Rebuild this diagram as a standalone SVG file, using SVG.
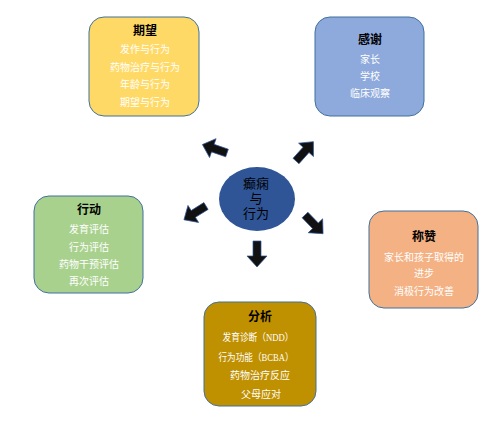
<svg xmlns="http://www.w3.org/2000/svg" width="500" height="422" viewBox="0 0 500 422">
<style>
.box{stroke:#41719C;stroke-width:1}
.t{font-family:"Liberation Serif","Noto Sans CJK SC",serif;font-size:12px;font-weight:bold;fill:#000;text-anchor:middle}
.i{font-family:"Liberation Serif","Noto Sans CJK SC",serif;font-size:10px;fill:#fff;text-anchor:middle}
.c{font-family:"Liberation Sans","Noto Sans CJK SC",sans-serif;font-size:13px;fill:#000;text-anchor:middle}
.arr{fill:#111;stroke:#2F5597;stroke-width:0.7}
</style>
<defs>
<path id="ar" d="M0,-4 L15,-4 L15,-10 L26,0 L15,10 L15,4 L0,4 Z"/>
</defs>
<rect width="500" height="422" fill="#fff"/>
<g id="connectors">
<use href="#ar" class="arr" transform="translate(227,153) rotate(199)"/>
<use href="#ar" class="arr" transform="translate(296,161) rotate(-48)"/>
<use href="#ar" class="arr" transform="translate(206,206) rotate(148)"/>
<use href="#ar" class="arr" transform="translate(305,215) rotate(46)"/>
<use href="#ar" class="arr" transform="translate(257,241) rotate(90)"/>
</g>
<g id="center">
<ellipse cx="257" cy="199" rx="38" ry="32" fill="#2F5597"/>
<text class="c" x="256" y="188">癫痫</text>
<text class="c" x="256" y="203">与</text>
<text class="c" x="256" y="218">行为</text>
</g>
<g id="expect">
<rect class="box" x="89" y="17" width="110" height="99" rx="15" fill="#FFD966"/>
<text class="t" x="145" y="35">期望</text>
<text class="i" x="145" y="53">发作与行为</text>
<text class="i" x="145" y="71">药物治疗与行为</text>
<text class="i" x="145" y="88">年龄与行为</text>
<text class="i" x="145" y="106">期望与行为</text>
</g>
<g id="thanks">
<rect class="box" x="315" y="17" width="109" height="99" rx="15" fill="#8EA9DB"/>
<text class="t" x="370" y="44">感谢</text>
<text class="i" x="370" y="63">家长</text>
<text class="i" x="370" y="80">学校</text>
<text class="i" x="370" y="97">临床观察</text>
</g>
<g id="action">
<rect class="box" x="34" y="196" width="109" height="97" rx="15" fill="#A9D18E"/>
<text class="t" x="89" y="214">行动</text>
<text class="i" x="89" y="233">发育评估</text>
<text class="i" x="89" y="251">行为评估</text>
<text class="i" x="89" y="268">药物干预评估</text>
<text class="i" x="89" y="285">再次评估</text>
</g>
<g id="praise">
<rect class="box" x="369" y="211" width="109" height="97" rx="15" fill="#F4B183"/>
<text class="t" x="424" y="241">称赞</text>
<text class="i" x="424" y="261">家长和孩子取得的</text>
<text class="i" x="424" y="277">进步</text>
<text class="i" x="424" y="295">消极行为改善</text>
</g>
<g id="analysis">
<rect class="box" x="204" y="302" width="112" height="104" rx="15" fill="#BF9000"/>
<text class="t" x="260" y="321">分析</text>
<text class="i" x="258" y="341" font-size="10.5" textLength="71" lengthAdjust="spacingAndGlyphs">发育诊断（NDD）</text>
<text class="i" x="256" y="361" font-size="10.5" textLength="75" lengthAdjust="spacingAndGlyphs">行为功能（BCBA）</text>
<text class="i" x="260" y="379" font-size="10.5">药物治疗反应</text>
<text class="i" x="261" y="398" font-size="10.5">父母应对</text>
</g>
</svg>
